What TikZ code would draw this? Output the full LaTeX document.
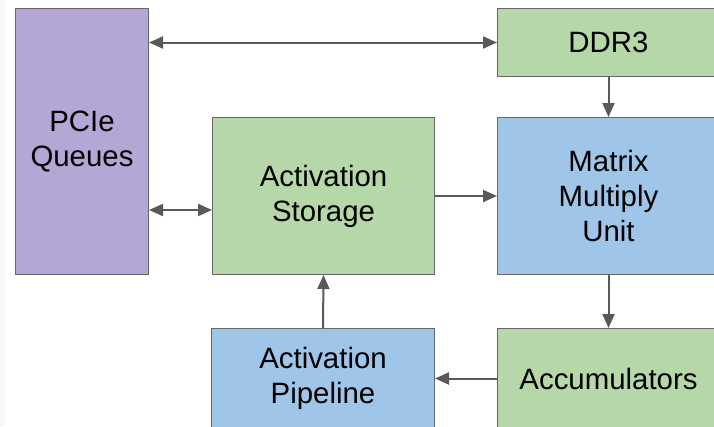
\documentclass[tikz,border=0pt]{standalone}
\usepackage{fontspec}
\setmainfont{Liberation Sans}
\usetikzlibrary{arrows.meta}
\definecolor{purp}{HTML}{B4A7D6}
\definecolor{grn}{HTML}{B6D7A8}
\definecolor{blu}{HTML}{9FC5E8}
\definecolor{edge}{HTML}{666666}
\definecolor{arr}{HTML}{595959}
\tikzset{
  box/.style={draw=edge, line width=1pt, anchor=north west, inner sep=0pt,
    align=center, font=\fontsize{29.4}{35}\selectfont, text=black},
  conn/.style={draw=arr, line width=2pt, -{Triangle[length=14pt,width=12pt]}},
  dconn/.style={draw=arr, line width=2pt, {Triangle[length=14pt,width=12pt]}-{Triangle[length=14pt,width=12pt]}}
}
\begin{document}
\begin{tikzpicture}[x=1pt,y=-1pt]
\useasboundingbox (0,0) rectangle (714,426);
\clip (0,0) rectangle (714,426);
\fill[white] (0,0) rectangle (714,426);
\fill[black!3] (0,0) rectangle (5,426);
\node[box, fill=purp, minimum width=133pt, minimum height=266pt] (pcie) at (15,8) {PCIe\\Queues};
\node[box, fill=grn, minimum width=222pt, minimum height=68pt] (ddr) at (497,8) {DDR3};
\node[box, fill=blu, minimum width=222pt, minimum height=157pt] (mmu) at (497,117) {Matrix\\Multiply\\Unit};
\node[box, fill=grn, minimum width=222pt, minimum height=157pt] (store) at (212,117) {Activation\\Storage};
\node[box, fill=blu, minimum width=223pt, minimum height=100pt] (pipe) at (211,328) {Activation\\Pipeline};
\node[box, fill=grn, minimum width=222pt, minimum height=100pt] (acc) at (497,328) {Accumulators};
\draw[dconn] (pcie.east |- ddr.west) -- (ddr.west);
\draw[dconn] (pcie.east |- 0,210) -- (store.west |- 0,210);
\draw[conn] (store.east) -- (mmu.west);
\draw[conn] (ddr.south) -- (mmu.north);
\draw[conn] (mmu.south) -- (acc.north);
\draw[conn] (acc.west) -- (pipe.east);
\draw[conn] (pipe.north) -- (store.south);
\end{tikzpicture}
\end{document}
